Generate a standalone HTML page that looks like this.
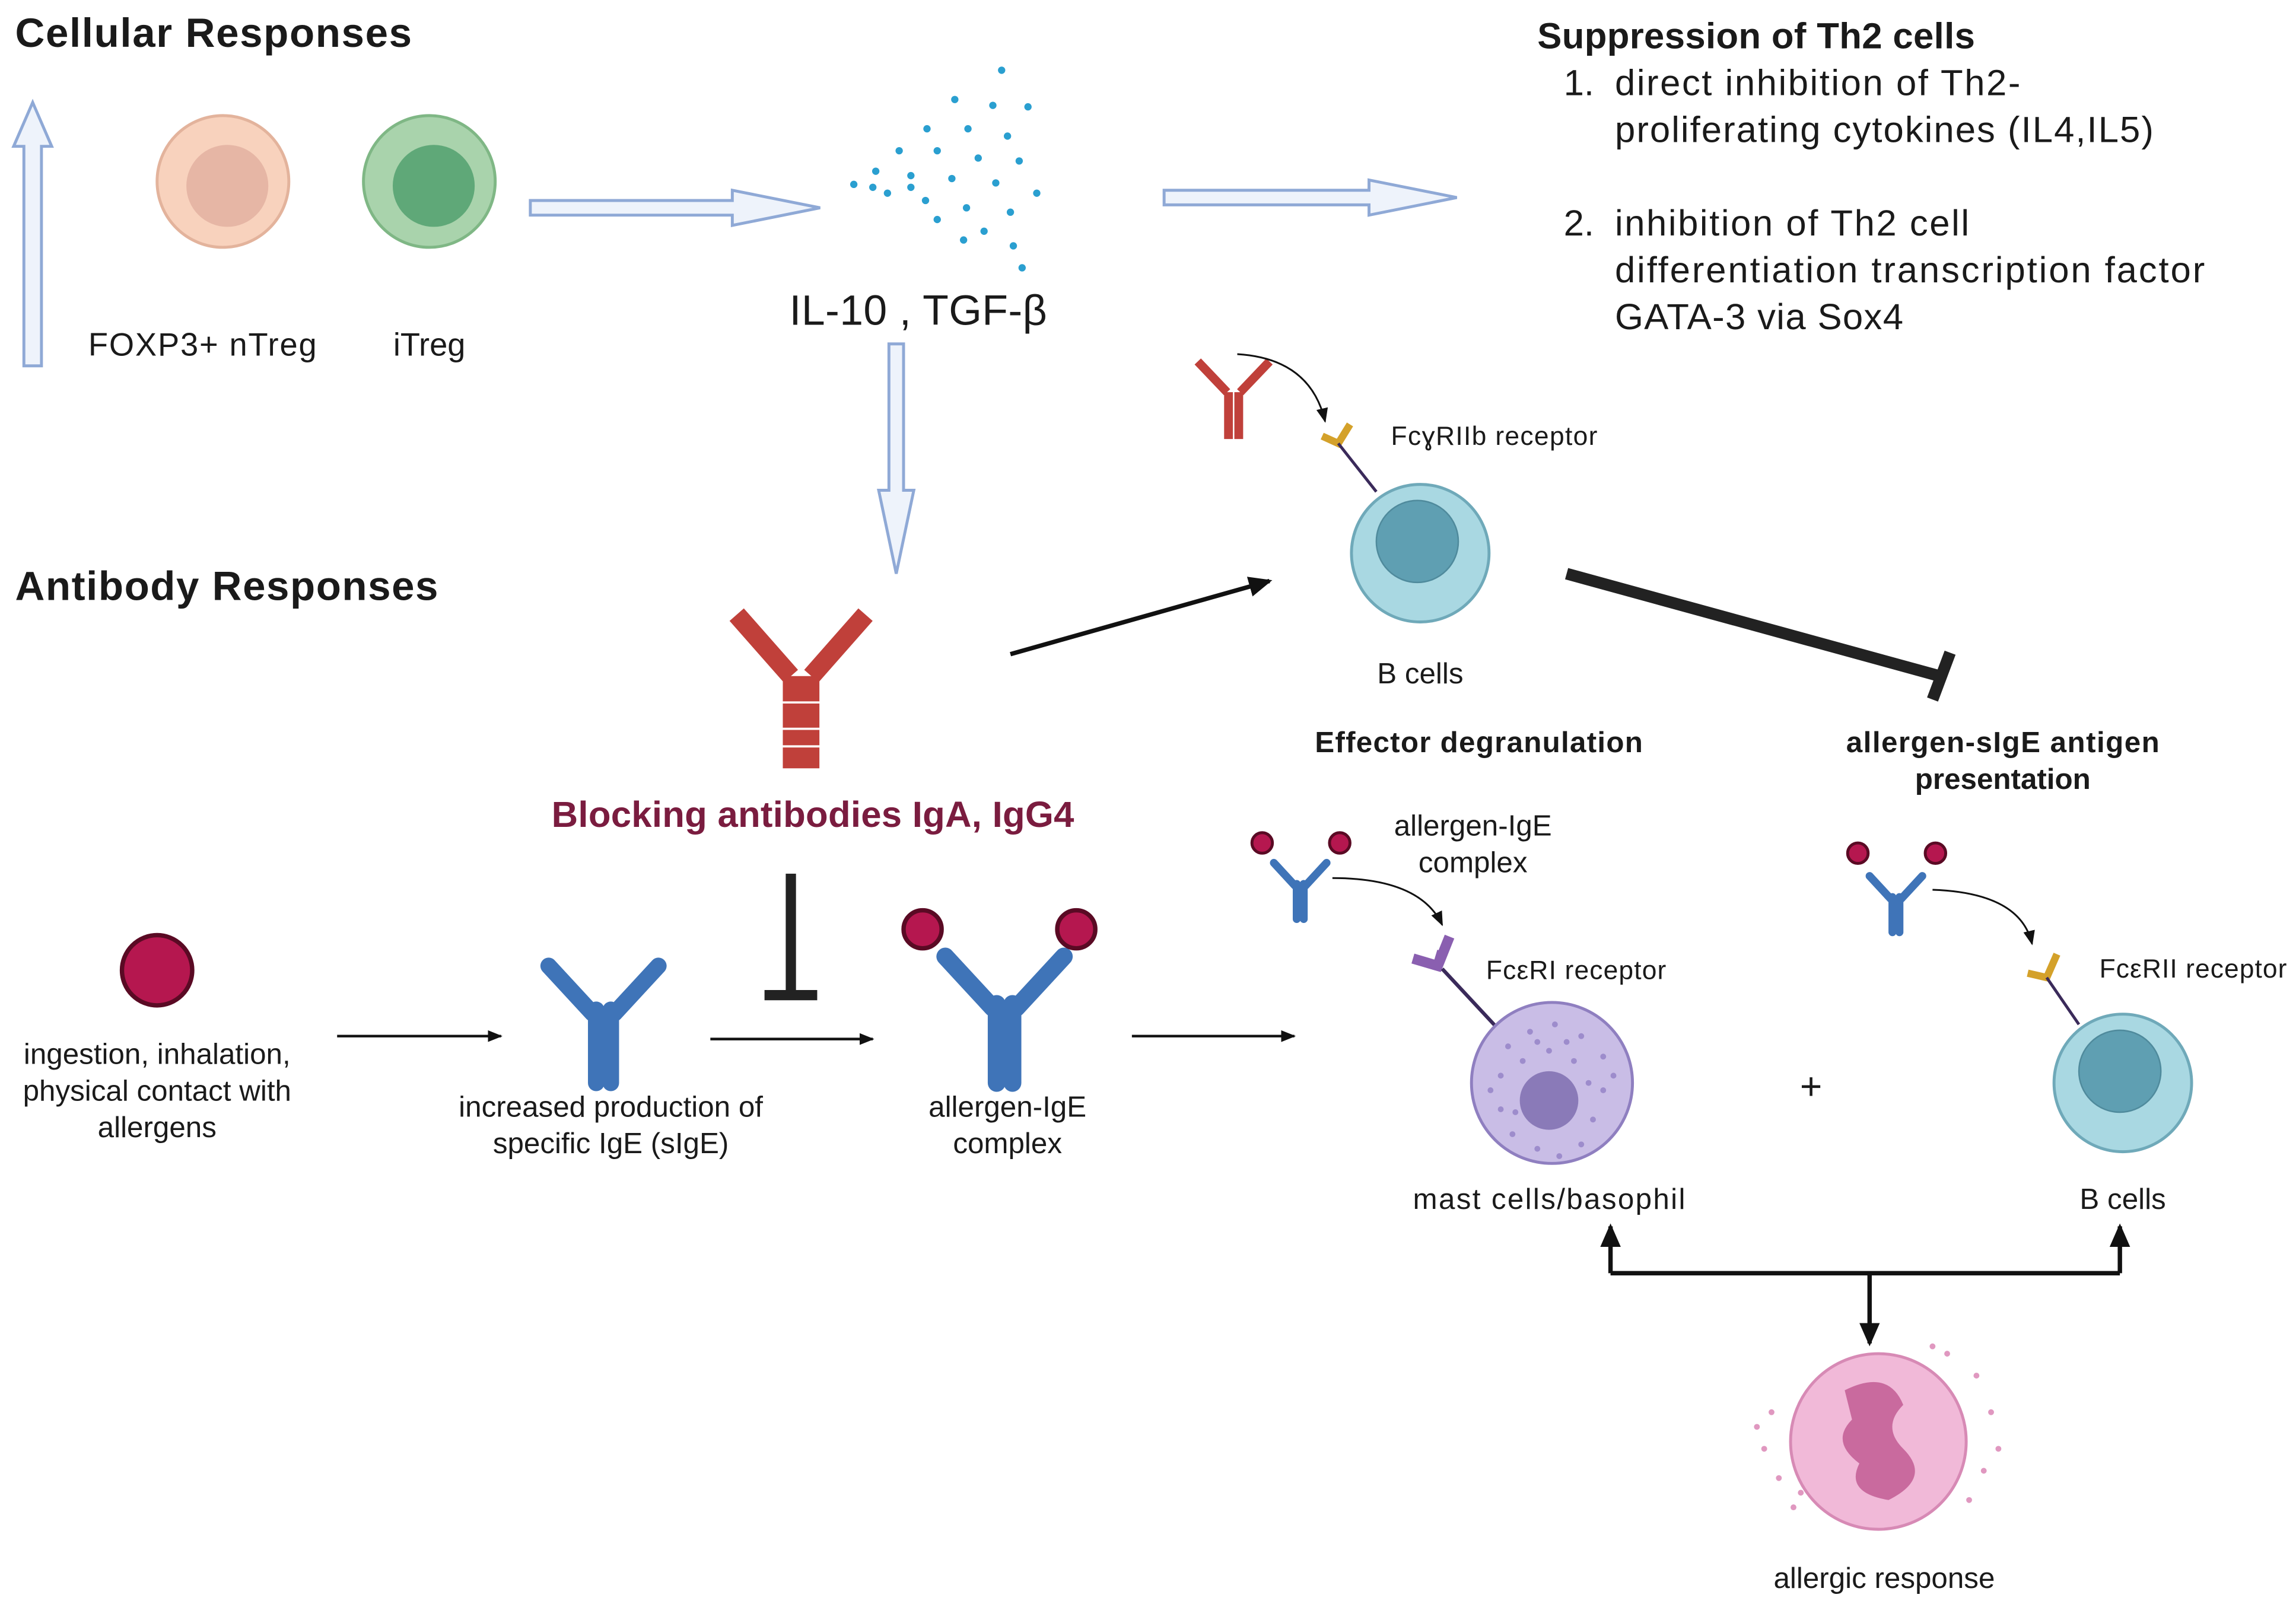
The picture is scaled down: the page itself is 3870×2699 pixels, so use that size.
<!DOCTYPE html>
<html><head><meta charset="utf-8"><style>html,body{margin:0;padding:0;background:#fff}svg{display:block}text{font-family:"Liberation Sans",sans-serif;fill:#1a1a1a}</style></head><body>
<svg width="3870" height="2699" viewBox="0 0 1568 1094" xmlns="http://www.w3.org/2000/svg">
<defs>
<marker id="ah" markerWidth="10" markerHeight="10" refX="9" refY="5" orient="auto" markerUnits="userSpaceOnUse"><path d="M0,1 L10,5 L0,9 Z" fill="#111"/></marker>
<marker id="ah2" markerWidth="16" markerHeight="16" refX="14" refY="8" orient="auto" markerUnits="userSpaceOnUse"><path d="M0,1 L16,8 L0,15 Z" fill="#111"/></marker>
<g id="ab"><path d="M-4,0 V-40 M4,0 V-40 M-6,-38 L-30,-64 M6,-38 L30,-64" stroke="#3f74b8" stroke-width="9" stroke-linecap="round" fill="none"/></g>
</defs>
<text x="10" y="32" font-size="28" font-weight="bold" textLength="271">Cellular Responses</text>
<text x="10" y="410" font-size="28" font-weight="bold" textLength="289">Antibody Responses</text>
<path d="M16,250 V100 H9 L22,70 L35,100 H28 V250 Z" fill="#eef3fb" stroke="#8fa9d6" stroke-width="2"/>
<path d="M362,137 H500 V130 L560,142 L500,154 V147 H362 Z" fill="#eef3fb" stroke="#8fa9d6" stroke-width="2"/>
<path d="M795,130 H935 V123 L995,135 L935,147 V140 H795 Z" fill="#eef3fb" stroke="#8fa9d6" stroke-width="2"/>
<path d="M607,235 V335 H600 L612,392 L624,335 H617 V235 Z" fill="#eef3fb" stroke="#8fa9d6" stroke-width="2"/>
<circle cx="152" cy="124" r="45" fill="#f8d2bd" stroke="#e3b39c" stroke-width="2"/><circle cx="155" cy="127" r="28" fill="#e6b6a5"/>
<circle cx="293" cy="124" r="45" fill="#a9d3ac" stroke="#7fb785" stroke-width="2"/><circle cx="296" cy="127" r="28" fill="#5fa878"/>
<text x="138" y="243" font-size="22" text-anchor="middle" textLength="156">FOXP3+ nTreg</text>
<text x="293" y="243" font-size="22" text-anchor="middle">iTreg</text>
<g fill="#2a9fd0">
<circle cx="684" cy="48" r="2.5"/><circle cx="652" cy="68" r="2.5"/><circle cx="678" cy="72" r="2.5"/><circle cx="702" cy="73" r="2.5"/><circle cx="633" cy="88" r="2.5"/><circle cx="661" cy="88" r="2.5"/><circle cx="688" cy="93" r="2.5"/><circle cx="614" cy="103" r="2.5"/><circle cx="640" cy="103" r="2.5"/><circle cx="668" cy="108" r="2.5"/><circle cx="696" cy="110" r="2.5"/><circle cx="598" cy="117" r="2.5"/><circle cx="622" cy="120" r="2.5"/><circle cx="650" cy="122" r="2.5"/><circle cx="680" cy="125" r="2.5"/><circle cx="708" cy="132" r="2.5"/><circle cx="583" cy="126" r="2.5"/><circle cx="606" cy="132" r="2.5"/><circle cx="632" cy="137" r="2.5"/><circle cx="660" cy="142" r="2.5"/><circle cx="690" cy="145" r="2.5"/><circle cx="596" cy="128" r="2.5"/><circle cx="640" cy="150" r="2.5"/><circle cx="672" cy="158" r="2.5"/><circle cx="658" cy="164" r="2.5"/><circle cx="692" cy="168" r="2.5"/><circle cx="698" cy="183" r="2.5"/><circle cx="622" cy="128" r="2.5"/>
</g>
<text x="627" y="222" font-size="29" text-anchor="middle" textLength="176">IL-10 , TGF-β</text>
<text x="1050" y="33" font-size="25" font-weight="bold" textLength="299">Suppression of Th2 cells</text>
<g font-size="25"><text x="1068" y="65">1.</text><text x="1103" y="65" textLength="277">direct inhibition of Th2-</text><text x="1103" y="97" textLength="368">proliferating cytokines (IL4,IL5)</text>
<text x="1068" y="161">2.</text><text x="1103" y="161" textLength="242">inhibition of Th2 cell</text><text x="1103" y="193" textLength="403">differentiation transcription factor</text><text x="1103" y="225" textLength="197">GATA-3 via Sox4</text></g>
<g stroke="#c0403a" stroke-width="13" fill="none"><path d="M541,525 V462 M553,525 V462 M540,462 L503,420 M554,462 L591,420"/></g>
<g stroke="#fff" stroke-width="1.5"><path d="M533,480 H561 M533,498 H561 M533,510H561"/></g>
<text x="555" y="565" font-size="25" font-weight="bold" text-anchor="middle" style="fill:#7a1c3f" textLength="357">Blocking antibodies IgA, IgG4</text>
<path d="M540,597 V678 M522,680 H558" stroke="#222" stroke-width="7" fill="none"/>
<circle cx="107" cy="663" r="24" fill="#b5174f" stroke="#5a0a24" stroke-width="3"/>
<g font-size="20" text-anchor="middle"><text x="107" y="727">ingestion, inhalation,</text><text x="107" y="752">physical contact with</text><text x="107" y="777">allergens</text></g>
<path d="M230,708 H342" stroke="#111" stroke-width="1.8" marker-end="url(#ah)"/>
<path d="M485,710 H596" stroke="#111" stroke-width="1.8" marker-end="url(#ah)"/>
<path d="M773,708 H884" stroke="#111" stroke-width="1.8" marker-end="url(#ah)"/>
<use href="#ab" transform="translate(412,740) scale(1.25)"/>
<g font-size="20" text-anchor="middle"><text x="417" y="763">increased production of</text><text x="417" y="788">specific IgE (sIgE)</text></g>
<use href="#ab" transform="translate(686,740) scale(1.35)"/>
<circle cx="630" cy="635" r="13" fill="#b5174f" stroke="#5a0a24" stroke-width="3"/><circle cx="735" cy="635" r="13" fill="#b5174f" stroke="#5a0a24" stroke-width="3"/>
<g font-size="20" text-anchor="middle"><text x="688" y="763">allergen-IgE</text><text x="688" y="788">complex</text></g>
<path d="M690,447 L867,397" stroke="#111" stroke-width="3" marker-end="url(#ah2)"/>
<g stroke="#c0403a" stroke-width="6" fill="none"><path d="M839,300 V268 M846,300 V268 M838,268 L818,247 M847,268 L867,247"/></g>
<path d="M845,242 Q895,245 905,288" stroke="#111" stroke-width="1.2" fill="none" marker-end="url(#ah)"/>
<path d="M903,298 L914,303 L922,290" stroke="#d4a12a" stroke-width="5" fill="none"/>
<path d="M914,303 L940,336" stroke="#3a2a5a" stroke-width="2"/>
<text x="950" y="304" font-size="18" textLength="141">FcɣRIIb receptor</text>
<circle cx="970" cy="378" r="47" fill="#a9d8e2" stroke="#6fa9b9" stroke-width="2"/><circle cx="968" cy="370" r="28" fill="#5f9fb2" stroke="#4f8a9c"/>
<text x="970" y="467" font-size="20" text-anchor="middle">B cells</text>
<path d="M1070,392 L1325,462" stroke="#222" stroke-width="8"/>
<path d="M1320,478 L1332,446" stroke="#222" stroke-width="8"/>
<text x="1010" y="514" font-size="20" font-weight="bold" text-anchor="middle" textLength="224">Effector degranulation</text>
<text x="1368" y="514" font-size="20" font-weight="bold" text-anchor="middle" textLength="214">allergen-sIgE antigen</text>
<text x="1368" y="539" font-size="20" font-weight="bold" text-anchor="middle">presentation</text>
<use href="#ab" transform="translate(888,628) scale(0.6)"/>
<circle cx="862" cy="576" r="7" fill="#b5174f" stroke="#5a0a24" stroke-width="2"/><circle cx="915" cy="576" r="7" fill="#b5174f" stroke="#5a0a24" stroke-width="2"/>
<g font-size="20" text-anchor="middle"><text x="1006" y="571">allergen-IgE</text><text x="1006" y="596">complex</text></g>
<path d="M910,600 Q970,600 985,632" stroke="#111" stroke-width="1.2" fill="none" marker-end="url(#ah)"/>
<path d="M965,655 L982,660 L990,640 M982,660 L985,650" stroke="#8a5fb0" stroke-width="7" fill="none"/>
<path d="M985,662 L1025,705" stroke="#3a2a5a" stroke-width="2.5"/>
<text x="1015" y="669" font-size="18" textLength="123">FcεRI receptor</text>
<circle cx="1060" cy="740" r="55" fill="#c9bde6" stroke="#8f7fc0" stroke-width="2"/>
<g fill="#9d8ccc"><circle cx="1030" cy="715" r="2"/><circle cx="1045" cy="705" r="2"/><circle cx="1062" cy="700" r="2"/><circle cx="1080" cy="708" r="2"/><circle cx="1095" cy="722" r="2"/><circle cx="1025" cy="735" r="2"/><circle cx="1040" cy="725" r="2"/><circle cx="1058" cy="718" r="2"/><circle cx="1075" cy="725" r="2"/><circle cx="1095" cy="745" r="2"/><circle cx="1025" cy="758" r="2"/><circle cx="1033" cy="775" r="2"/><circle cx="1088" cy="765" r="2"/><circle cx="1080" cy="782" r="2"/><circle cx="1050" cy="785" r="2"/><circle cx="1065" cy="790" r="2"/><circle cx="1102" cy="735" r="2"/><circle cx="1018" cy="745" r="2"/><circle cx="1050" cy="712" r="2"/><circle cx="1085" cy="740" r="2"/><circle cx="1035" cy="760" r="2"/><circle cx="1070" cy="712" r="2"/></g>
<circle cx="1058" cy="752" r="20" fill="#8a7ab8"/>
<text x="1058" y="826" font-size="20" text-anchor="middle" textLength="186">mast cells/basophil</text>
<text x="1237" y="751" font-size="26" text-anchor="middle">+</text>
<use href="#ab" transform="translate(1295,637) scale(0.6)"/>
<circle cx="1269" cy="583" r="7" fill="#b5174f" stroke="#5a0a24" stroke-width="2"/><circle cx="1322" cy="583" r="7" fill="#b5174f" stroke="#5a0a24" stroke-width="2"/>
<path d="M1320,608 Q1380,610 1388,645" stroke="#111" stroke-width="1.2" fill="none" marker-end="url(#ah)"/>
<path d="M1385,665 L1398,668 L1405,652" stroke="#d4a12a" stroke-width="5" fill="none"/>
<path d="M1398,668 L1420,700" stroke="#3a2a5a" stroke-width="2"/>
<text x="1434" y="668" font-size="18" textLength="128">FcεRII receptor</text>
<circle cx="1450" cy="740" r="47" fill="#a9d8e2" stroke="#6fa9b9" stroke-width="2"/><circle cx="1448" cy="732" r="28" fill="#5f9fb2" stroke="#4f8a9c"/>
<text x="1450" y="826" font-size="20" text-anchor="middle">B cells</text>
<path d="M1100,870 H1448" stroke="#111" stroke-width="3" fill="none"/>
<path d="M1100,870 V838" stroke="#111" stroke-width="3" marker-end="url(#ah2)"/>
<path d="M1448,870 V838" stroke="#111" stroke-width="3" marker-end="url(#ah2)"/>
<path d="M1277,870 V918" stroke="#111" stroke-width="3" marker-end="url(#ah2)"/>
<g fill="#e098c0"><circle cx="1210" cy="965" r="2"/><circle cx="1205" cy="990" r="2"/><circle cx="1215" cy="1010" r="2"/><circle cx="1350" cy="940" r="2"/><circle cx="1360" cy="965" r="2"/><circle cx="1355" cy="1005" r="2"/><circle cx="1345" cy="1025" r="2"/><circle cx="1330" cy="925" r="2"/><circle cx="1225" cy="1030" r="2"/><circle cx="1365" cy="990" r="2"/><circle cx="1200" cy="975" r="2"/><circle cx="1340" cy="1000" r="2"/><circle cx="1320" cy="920" r="2"/><circle cx="1230" cy="1020" r="2"/></g>
<circle cx="1283" cy="985" r="60" fill="#f1b9d8" stroke="#d78ab5" stroke-width="2"/>
<path d="M1260,950 Q1290,935 1300,960 Q1285,975 1300,990 Q1320,1010 1290,1025 Q1260,1020 1270,1000 Q1250,985 1265,970 Z" fill="#c96a9e"/>
<text x="1287" y="1085" font-size="20" text-anchor="middle">allergic response</text>
</svg>
</body></html>
